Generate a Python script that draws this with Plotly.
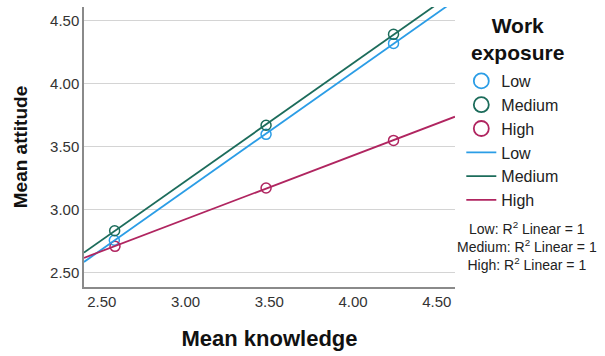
import numpy as np
import plotly.graph_objects as go

groups = ["Low", "Medium", "High"]
colors = {"Low": "#2b9de6", "Medium": "#1c6c5b", "High": "#b02560"}
knowledge = {
    "Low": [2.575, 3.481, 4.242],
    "Medium": [2.577, 3.481, 4.242],
    "High": [2.579, 3.481, 4.242],
}
attitude = {
    "Low": [2.757, 3.598, 4.320],
    "Medium": [2.833, 3.670, 4.392],
    "High": [2.709, 3.172, 3.550],
}
x_range = [2.394, 4.609]
y_range = [2.386, 4.609]
tick_vals = [2.5, 3.0, 3.5, 4.0, 4.5]
tick_text = ["2.50", "3.00", "3.50", "4.00", "4.50"]

FONT = "Liberation Sans, Arial, sans-serif"

fig = go.Figure()
# data points
for g in groups:
    fig.add_trace(go.Scatter(
        x=knowledge[g], y=attitude[g], mode="markers",
        marker=dict(symbol="circle-open", size=10, color=colors[g], line=dict(width=1.5)),
        showlegend=False, cliponaxis=False))
# legend circles
for g in groups:
    fig.add_trace(go.Scatter(
        x=[None], y=[None], mode="markers", name=g,
        marker=dict(symbol="circle-open", size=15, color=colors[g], line=dict(width=1.8)),
        showlegend=True))
# fit lines
for g in groups:
    b, a = np.polyfit(knowledge[g], attitude[g], 1)
    xs = np.array(x_range)
    fig.add_trace(go.Scatter(
        x=xs, y=a + b * xs, mode="lines", name=g,
        line=dict(color=colors[g], width=1.8), showlegend=True))

# legend title
fig.add_annotation(
    xref="paper", yref="paper", x=(517 - 84) / 371, y=(287 - 39) / 280,
    xanchor="center", yanchor="middle",
    text="<b>Work<br>exposure</b>", align="center", showarrow=False,
    font=dict(family=FONT, size=21, color="#111"))
# R² note
fig.add_annotation(
    xref="paper", yref="paper", x=(527 - 84) / 371, y=(287 - 246) / 280,
    xanchor="center", yanchor="middle",
    text="Low: R<sup>2</sup> Linear = 1<br>Medium: R<sup>2</sup> Linear = 1<br>High: R<sup>2</sup> Linear = 1",
    align="center", showarrow=False,
    font=dict(family=FONT, size=14, color="#222"))

axis_common = dict(
    gridcolor="#d4d4d4", gridwidth=1.2,
    showline=True, linecolor="#8a8a8a", linewidth=1.5,
    zeroline=False, ticks="",
    tickvals=tick_vals, ticktext=tick_text,
    tickfont=dict(family=FONT, size=15, color="#333"),
)
fig.update_xaxes(range=x_range, showgrid=False, **axis_common,
                 title=dict(text="<b>Mean knowledge</b>", standoff=22,
                            font=dict(family=FONT, size=22, color="#111")))
fig.update_yaxes(range=y_range, showgrid=True, **axis_common,
                 title=dict(text="<b>Mean attitude</b>", standoff=17,
                            font=dict(family=FONT, size=19, color="#111")))

fig.update_layout(
    width=605, height=356,
    margin=dict(l=84, r=150, t=7, b=69),
    plot_bgcolor="white", paper_bgcolor="white",
    legend=dict(
        x=1.017, y=(287 - 64) / 280, xanchor="left", yanchor="top",
        font=dict(family=FONT, size=16, color="#222"),
        itemwidth=30, tracegroupgap=0, bgcolor="rgba(0,0,0,0)",
    ),
)

fig.write_html("out.html")
